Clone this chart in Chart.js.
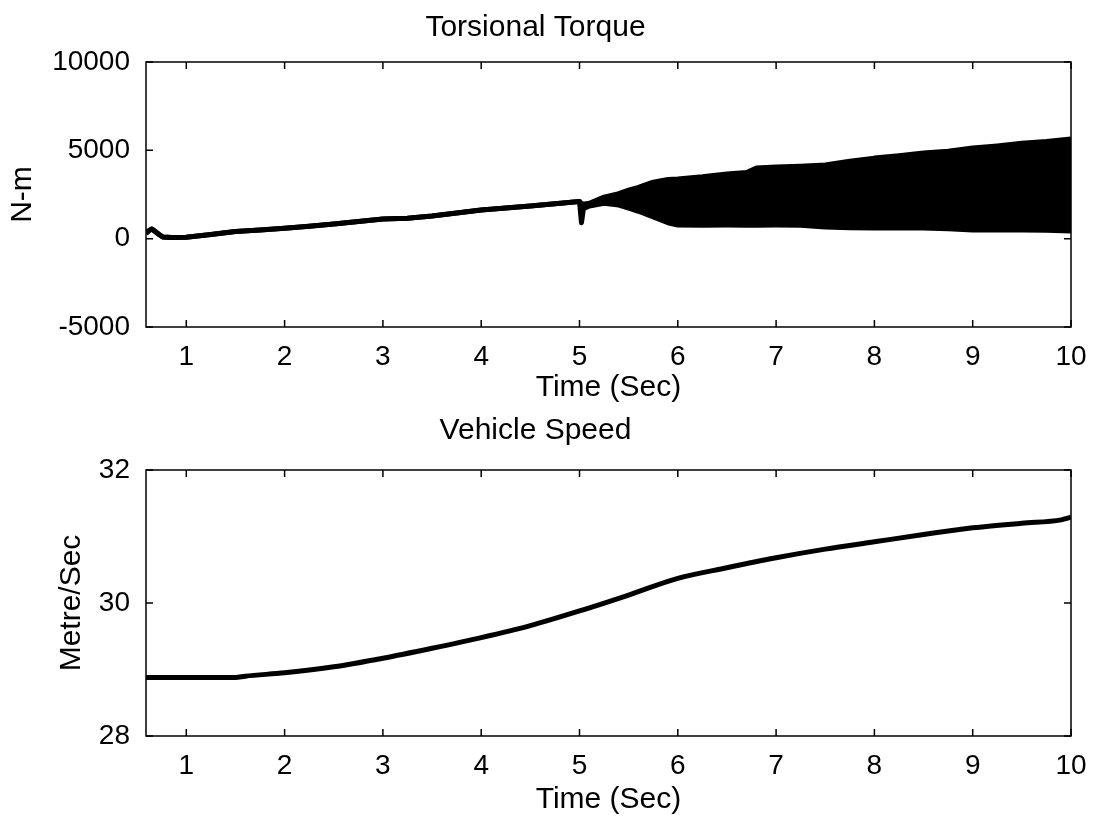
<!DOCTYPE html>
<html>
<head>
<meta charset="utf-8">
<script src="https://cdn.jsdelivr.net/npm/chart.js@4.4.0/dist/chart.umd.min.js"></script>
<style>
  body { margin: 0; background: #fff; }
  .panel { position: absolute; left: 0; width: 1095px; height: 410px; }
  #torquePanel { top: 0; }
  #speedPanel { top: 409px; }
</style>
</head>
<body>
<div class="panel" id="torquePanel"><canvas id="torqueChart" width="1095" height="410"></canvas></div>
<div class="panel" id="speedPanel"><canvas id="speedChart" width="1095" height="410"></canvas></div>
<script>
// time axis
const xMin = 0.59;
const xMax = 10;
const xTicks = [1, 2, 3, 4, 5, 6, 7, 8, 9, 10];

// torsional torque (N-m): envelope of the trace, upper and lower edge
const torqueTime  = [0.59, 0.62, 0.65, 0.68, 0.72, 0.76, 0.85, 1.0, 1.25, 1.5, 1.75, 2.0, 2.25, 2.5, 2.75, 3.0, 3.25, 3.5, 3.75, 4.0, 4.25, 4.5, 4.75, 4.97, 5.0, 5.02, 5.04, 5.1, 5.25, 5.4, 5.5, 5.6, 5.75, 5.9, 6.0, 6.25, 6.5, 6.7, 6.8, 7.0, 7.25, 7.5, 7.75, 8.0, 8.25, 8.5, 8.75, 9.0, 9.25, 9.5, 9.75, 10.0];
const torqueUpper = [300, 450, 550, 420, 250, 90, 60, 80, 230, 400, 490, 590, 700, 830, 970, 1110, 1150, 1280, 1450, 1620, 1730, 1850, 1970, 2090, 2100, 2000, 1950, 2000, 2350, 2550, 2750, 2900, 3200, 3350, 3380, 3500, 3660, 3750, 4000, 4060, 4100, 4170, 4380, 4560, 4700, 4850, 4950, 5130, 5250, 5400, 5500, 5640];
const torqueLower = [300, 450, 550, 420, 250, 90, 60, 80, 230, 400, 490, 590, 700, 830, 970, 1110, 1150, 1280, 1450, 1620, 1730, 1850, 1970, 2090, 2100, 900, 1700, 1850, 2000, 1900, 1730, 1550, 1230, 900, 770, 760, 770, 760, 760, 770, 760, 660, 620, 600, 600, 600, 560, 490, 490, 490, 470, 430];
const torqueTicks = [-5000, 0, 5000, 10000];

// vehicle speed (m/s)
const speedTime  = [0.59, 1.0, 1.5, 1.6, 2.0, 2.5, 3.0, 3.5, 4.0, 4.5, 5.0, 5.5, 6.0, 6.5, 7.0, 7.5, 8.0, 8.5, 9.0, 9.5, 9.9, 10.0];
const speedValue = [28.88, 28.88, 28.88, 28.9, 28.95, 29.04, 29.17, 29.32, 29.48, 29.66, 29.88, 30.12, 30.37, 30.53, 30.68, 30.81, 30.92, 31.03, 31.13, 31.2, 31.25, 31.29];
const speedTicks = [28, 30, 32];

const FONT = "'Liberation Sans', Arial, sans-serif";

function points(xs, ys) {
  return xs.map((x, i) => ({ x: x, y: ys[i] }));
}

// frame around the plot area with inward tick marks on all four sides
const boxPlugin = {
  id: 'box',
  afterDraw(chart) {
    const { ctx, chartArea: a, scales: { x, y } } = chart;
    const len = 7;
    ctx.save();
    ctx.strokeStyle = '#000';
    ctx.lineWidth = 1.5;
    ctx.strokeRect(a.left, a.top, a.right - a.left, a.bottom - a.top);
    ctx.beginPath();
    x.ticks.forEach(t => {
      const px = x.getPixelForValue(t.value);
      ctx.moveTo(px, a.bottom); ctx.lineTo(px, a.bottom - len);
      ctx.moveTo(px, a.top); ctx.lineTo(px, a.top + len);
    });
    y.ticks.forEach(t => {
      const py = y.getPixelForValue(t.value);
      ctx.moveTo(a.left, py); ctx.lineTo(a.left + len, py);
      ctx.moveTo(a.right, py); ctx.lineTo(a.right - len, py);
    });
    ctx.stroke();
    ctx.restore();
  }
};

function makeOptions(cfg) {
  return {
    responsive: false,
    animation: false,
    layout: { padding: { left: 0, right: 24, top: 0, bottom: 0 } },
    plugins: {
      legend: { display: false },
      tooltip: { enabled: false },
      title: {
        display: true,
        text: cfg.title,
        color: '#000',
        font: { family: FONT, size: 30, weight: 'normal' },
        padding: cfg.titlePad
      }
    },
    scales: {
      x: {
        type: 'linear',
        min: xMin,
        max: xMax,
        afterBuildTicks: s => { s.ticks = xTicks.map(v => ({ value: v })); },
        afterFit: s => { s.height = 83; },
        grid: { display: false },
        border: { display: false },
        ticks: { color: '#000', font: { family: FONT, size: 28 }, padding: 5, maxRotation: 0, callback: v => String(v) },
        title: {
          display: true,
          text: 'Time (Sec)',
          color: '#000',
          font: { family: FONT, size: 30 },
          padding: { top: 0, bottom: cfg.xTitleBottom }
        }
      },
      y: {
        type: 'linear',
        min: cfg.yTicks[0],
        max: cfg.yTicks[cfg.yTicks.length - 1],
        afterBuildTicks: s => { s.ticks = cfg.yTicks.map(v => ({ value: v })); },
        afterFit: s => { s.width = 146; },
        grid: { display: false },
        border: { display: false },
        ticks: { color: '#000', font: { family: FONT, size: 28 }, padding: 8, callback: v => String(v) },
        title: {
          display: true,
          text: cfg.yLabel,
          color: '#000',
          font: { family: FONT, size: 30 },
          padding: { top: cfg.yTitleTop, bottom: 0 }
        }
      }
    }
  };
}

new Chart(document.getElementById('torqueChart'), {
  type: 'line',
  data: {
    datasets: [
      {
        data: points(torqueTime, torqueUpper),
        borderColor: '#000',
        borderWidth: 5,
        borderJoinStyle: 'round',
        pointRadius: 0,
        fill: false
      },
      {
        data: points(torqueTime, torqueLower),
        borderColor: '#000',
        backgroundColor: '#000',
        borderWidth: 5,
        borderJoinStyle: 'round',
        pointRadius: 0,
        fill: '-1'
      }
    ]
  },
  options: makeOptions({
    title: 'Torsional Torque',
    titlePad: { top: 10, bottom: 16 },
    yTicks: torqueTicks,
    yLabel: 'N-m',
    yTitleTop: 5,
    xTitleBottom: 4
  }),
  plugins: [boxPlugin]
});

new Chart(document.getElementById('speedChart'), {
  type: 'line',
  data: {
    datasets: [
      {
        data: points(speedTime, speedValue),
        borderColor: '#000',
        borderWidth: 5,
        borderJoinStyle: 'round',
        cubicInterpolationMode: 'monotone',
        pointRadius: 0,
        fill: false
      }
    ]
  },
  options: makeOptions({
    title: 'Vehicle Speed',
    titlePad: { top: 4, bottom: 21 },
    yTicks: speedTicks,
    yLabel: 'Metre/Sec',
    yTitleTop: 54,
    xTitleBottom: 1
  }),
  plugins: [boxPlugin]
});
</script>
</body>
</html>
